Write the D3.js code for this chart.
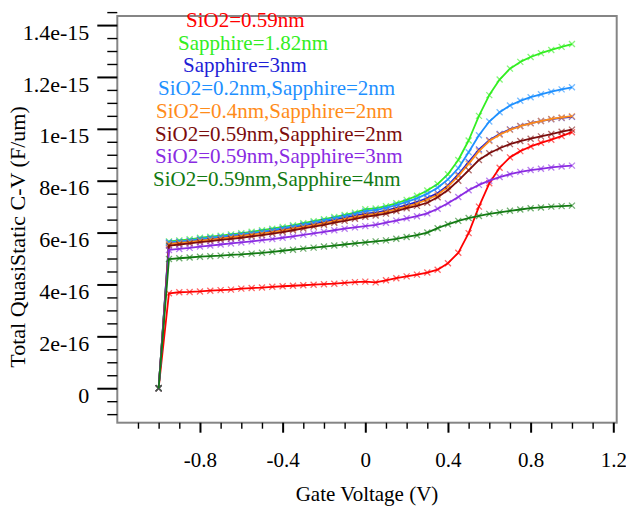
<!DOCTYPE html>
<html>
<head>
<meta charset="utf-8">
<script src="https://cdn.jsdelivr.net/npm/d3@7"></script>
<style>
  html, body { margin: 0; padding: 0; background: #fff; }
  svg { display: block; }
  svg text { font-family: "Liberation Serif", "DejaVu Serif", serif; }
</style>
</head>
<body>
<svg id="chart" width="626" height="511"></svg>
<script>
// Gate voltage sweep (V)
const gateVoltage = [
  -1.00, -0.95, -0.90, -0.85, -0.80, -0.75, -0.70, -0.65, -0.60, -0.55,
  -0.50, -0.45, -0.40, -0.35, -0.30, -0.25, -0.20, -0.15, -0.10, -0.05,
   0.00,  0.05,  0.10,  0.15,  0.20,  0.25,  0.30,  0.35,  0.40,  0.45,
   0.50,  0.55,  0.60,  0.65,  0.70,  0.75,  0.80,  0.85,  0.90,  0.95,
   1.00
];

// Total quasi-static capacitance, in units of 1e-16 F/um
const sio2_059 = [
  0, 3.66, 3.70, 3.71, 3.73, 3.76, 3.78, 3.80, 3.84, 3.86,
  3.88, 3.91, 3.93, 3.95, 3.97, 3.99, 4.01, 4.03, 4.06, 4.09,
  4.11, 4.08, 4.16, 4.24, 4.31, 4.38, 4.46, 4.57, 4.82, 5.22,
  5.98, 7.00, 7.90, 8.50, 8.90, 9.14, 9.32, 9.46, 9.58, 9.72,
  9.87
];
const sapphire_182 = [
  0, 5.66, 5.70, 5.74, 5.80, 5.84, 5.88, 5.93, 5.98, 6.03,
  6.09, 6.15, 6.22, 6.28, 6.36, 6.44, 6.52, 6.60, 6.68, 6.77,
  6.90, 6.93, 7.02, 7.13, 7.26, 7.42, 7.62, 7.87, 8.25, 8.80,
  9.55, 10.50, 11.30, 11.90, 12.32, 12.58, 12.77, 12.92, 13.04, 13.16,
  13.27
];
const sapphire_3 = [
  0, 5.60, 5.63, 5.66, 5.72, 5.76, 5.80, 5.85, 5.90, 5.95,
  6.00, 6.06, 6.12, 6.19, 6.26, 6.33, 6.41, 6.49, 6.57, 6.65,
  6.73, 6.77, 6.85, 6.95, 7.06, 7.18, 7.33, 7.52, 7.82, 8.24,
  8.72, 9.20, 9.56, 9.80, 9.98, 10.11, 10.22, 10.30, 10.37, 10.42,
  10.46
];
const sio2_02_sap_2 = [
  0, 5.63, 5.66, 5.70, 5.76, 5.80, 5.84, 5.89, 5.94, 5.99,
  6.04, 6.10, 6.17, 6.24, 6.31, 6.39, 6.47, 6.55, 6.63, 6.72,
  6.83, 6.87, 6.95, 7.06, 7.18, 7.32, 7.50, 7.73, 8.05, 8.48,
  9.10, 9.75, 10.28, 10.64, 10.90, 11.08, 11.22, 11.33, 11.43, 11.52,
  11.60
];
const sio2_04_sap_2 = [
  0, 5.56, 5.60, 5.63, 5.69, 5.73, 5.77, 5.82, 5.87, 5.92,
  5.97, 6.02, 6.08, 6.15, 6.22, 6.29, 6.36, 6.44, 6.52, 6.60,
  6.68, 6.72, 6.80, 6.90, 7.00, 7.12, 7.27, 7.46, 7.77, 8.18,
  8.65, 9.14, 9.53, 9.77, 9.96, 10.10, 10.21, 10.30, 10.38, 10.44,
  10.49
];
const sio2_059_sap_2 = [
  0, 5.50, 5.54, 5.58, 5.63, 5.67, 5.72, 5.76, 5.80, 5.85,
  5.90, 5.96, 6.02, 6.09, 6.16, 6.23, 6.30, 6.38, 6.45, 6.53,
  6.61, 6.66, 6.73, 6.83, 6.94, 7.03, 7.15, 7.36, 7.64, 8.00,
  8.40, 8.80, 9.06, 9.25, 9.41, 9.53, 9.62, 9.71, 9.80, 9.89,
  9.97
];
const sio2_059_sap_3 = [
  0, 5.33, 5.37, 5.41, 5.46, 5.50, 5.54, 5.58, 5.62, 5.66,
  5.71, 5.75, 5.80, 5.85, 5.91, 5.97, 6.03, 6.09, 6.15, 6.20,
  6.25, 6.30, 6.38, 6.46, 6.55, 6.63, 6.74, 6.92, 7.13, 7.37,
  7.63, 7.84, 8.00, 8.14, 8.25, 8.34, 8.41, 8.46, 8.51, 8.55,
  8.58
];
const sio2_059_sap_4 = [
  0, 4.98, 5.01, 5.04, 5.07, 5.09, 5.11, 5.14, 5.16, 5.19,
  5.22, 5.26, 5.30, 5.34, 5.38, 5.42, 5.46, 5.50, 5.54, 5.58,
  5.62, 5.66, 5.70, 5.76, 5.83, 5.90, 6.00, 6.17, 6.32, 6.45,
  6.56, 6.64, 6.72, 6.78, 6.84, 6.89, 6.94, 6.97, 7.00, 7.02,
  7.04
];
const UNIT = 1e-16;

const seriesNames = [
  "SiO2=0.59nm",
  "Sapphire=1.82nm",
  "Sapphire=3nm",
  "SiO2=0.2nm,Sapphire=2nm",
  "SiO2=0.4nm,Sapphire=2nm",
  "SiO2=0.59nm,Sapphire=2nm",
  "SiO2=0.59nm,Sapphire=3nm",
  "SiO2=0.59nm,Sapphire=4nm"
];
const seriesValues = [
  sio2_059, sapphire_182, sapphire_3, sio2_02_sap_2,
  sio2_04_sap_2, sio2_059_sap_2, sio2_059_sap_3, sio2_059_sap_4
];
const seriesColors = [
  "#ff0000", "#33ee22", "#1e1ed6", "#1e90ff",
  "#ff8c1a", "#7b0c0c", "#8a2be2", "#127a12"
];

// Axis ticks
const xMajorTicks = [-0.8, -0.4, 0, 0.4, 0.8, 1.2];
const xTickLabels = ["-0.8", "-0.4", "0", "0.4", "0.8", "1.2"];
const xMinorTicks = [-1.1, -1.0, -0.9, -0.7, -0.6, -0.5, -0.3, -0.2, -0.1,
                      0.1, 0.2, 0.3, 0.5, 0.6, 0.7, 0.9, 1.0, 1.1];
const yMajorTicks = [0, 2e-16, 4e-16, 6e-16, 8e-16, 1e-15, 1.2e-15, 1.4e-15];
const yTickLabels = ["0", "2e-16", "4e-16", "6e-16", "8e-16", "1e-15", "1.2e-15", "1.4e-15"];
const yMinorTicks = [-1e-16, -5e-17, 5e-17, 1e-16, 1.5e-16, 2.5e-16, 3e-16, 3.5e-16,
                     4.5e-16, 5e-16, 5.5e-16, 6.5e-16, 7e-16, 7.5e-16, 8.5e-16, 9e-16,
                     9.5e-16, 1.05e-15, 1.1e-15, 1.15e-15, 1.25e-15, 1.3e-15, 1.35e-15, 1.45e-15];

// Legend placement (left x, baseline y)
const legendPos = [
  [186, 27], [178, 49.5], [183, 72], [158, 95],
  [156, 117.5], [155, 140.5], [155, 163], [153, 186]
];

const FONT = '"Liberation Serif", "DejaVu Serif", serif';
const svg = d3.select("#chart");
const frame = { left: 117.3, right: 616.7, top: 16, bottom: 422.7 };

const x = d3.scaleLinear().domain([-1.2, 1.2165]).range([frame.left, frame.right]);
const y = d3.scaleLinear().domain([-1.33e-16, 1.435e-15]).range([frame.bottom, frame.top]);

// Plot frame
svg.append("rect")
  .attr("x", frame.left).attr("y", frame.top)
  .attr("width", frame.right - frame.left)
  .attr("height", frame.bottom - frame.top)
  .attr("fill", "none").attr("stroke", "#858585").attr("stroke-width", 2);

// Y axis
const yMajor = svg.append("g")
  .attr("transform", `translate(${frame.left},0)`)
  .call(d3.axisLeft(y).tickValues(yMajorTicks).tickSize(20).tickPadding(8)
    .tickFormat((d, i) => yTickLabels[i]));
const yMinor = svg.append("g")
  .attr("transform", `translate(${frame.left},0)`)
  .call(d3.axisLeft(y).tickValues(yMinorTicks).tickSize(10).tickFormat(""));

// X axis
const xMajor = svg.append("g")
  .attr("transform", `translate(0,${frame.bottom})`)
  .call(d3.axisBottom(x).tickValues(xMajorTicks).tickSize(10).tickPadding(19)
    .tickFormat((d, i) => xTickLabels[i]));
const xMinor = svg.append("g")
  .attr("transform", `translate(0,${frame.bottom})`)
  .call(d3.axisBottom(x).tickValues(xMinorTicks).tickSize(6).tickFormat(""));

[yMajor, yMinor, xMajor, xMinor].forEach(g => {
  g.select(".domain").remove();
  g.attr("font-family", FONT).attr("font-size", 22);
});
[yMajor, xMajor].forEach(g => g.selectAll(".tick line").attr("stroke", "#000").attr("stroke-width", 2));
[yMinor, xMinor].forEach(g => g.selectAll(".tick line").attr("stroke", "#000").attr("stroke-width", 1.4));
yMajor.selectAll(".tick text")
  .attr("fill", "#000")
  .attr("font-family", FONT)
  .attr("font-size", 22)
  .attr("dy", "0.64em");
xMajor.selectAll(".tick text")
  .attr("fill", "#000")
  .attr("font-family", FONT)
  .attr("font-size", 21);

// Axis titles
svg.append("text")
  .attr("x", 367).attr("y", 501)
  .attr("text-anchor", "middle")
  .attr("font-family", FONT)
  .attr("font-size", 21)
  .text("Gate Voltage (V)");
svg.append("text")
  .attr("transform", "translate(25,237) rotate(-90)")
  .attr("text-anchor", "middle")
  .attr("font-family", FONT)
  .attr("font-size", 22)
  .text("Total QuasiStatic C-V (F/um)");

// Curves with cross markers
const line = d3.line()
  .x((d, i) => x(gateVoltage[i]))
  .y(d => y(d * UNIT));

const plot = svg.append("g");
seriesValues.forEach((vals, s) => {
  const g = plot.append("g");
  g.append("path")
    .datum(vals)
    .attr("d", line)
    .attr("fill", "none")
    .attr("stroke", seriesColors[s])
    .attr("stroke-width", 1.8)
    .attr("stroke-linejoin", "round");
  const r = 3;
  g.selectAll("path.mk")
    .data(vals)
    .join("path")
    .attr("class", "mk")
    .attr("d", (d, i) => {
      const cx = x(gateVoltage[i]), cy = y(d * UNIT);
      return `M${cx - r},${cy - r}L${cx + r},${cy + r}M${cx - r},${cy + r}L${cx + r},${cy - r}`;
    })
    .attr("stroke", seriesColors[s])
    .attr("stroke-opacity", 0.6)
    .attr("stroke-width", 1.3);
});

// Legend
svg.append("g").selectAll("text")
  .data(seriesNames)
  .join("text")
  .attr("x", (d, i) => legendPos[i][0])
  .attr("y", (d, i) => legendPos[i][1])
  .attr("fill", (d, i) => seriesColors[i])
  .attr("font-family", FONT)
  .attr("font-size", 21)
  .text(d => d);
</script>
</body>
</html>
